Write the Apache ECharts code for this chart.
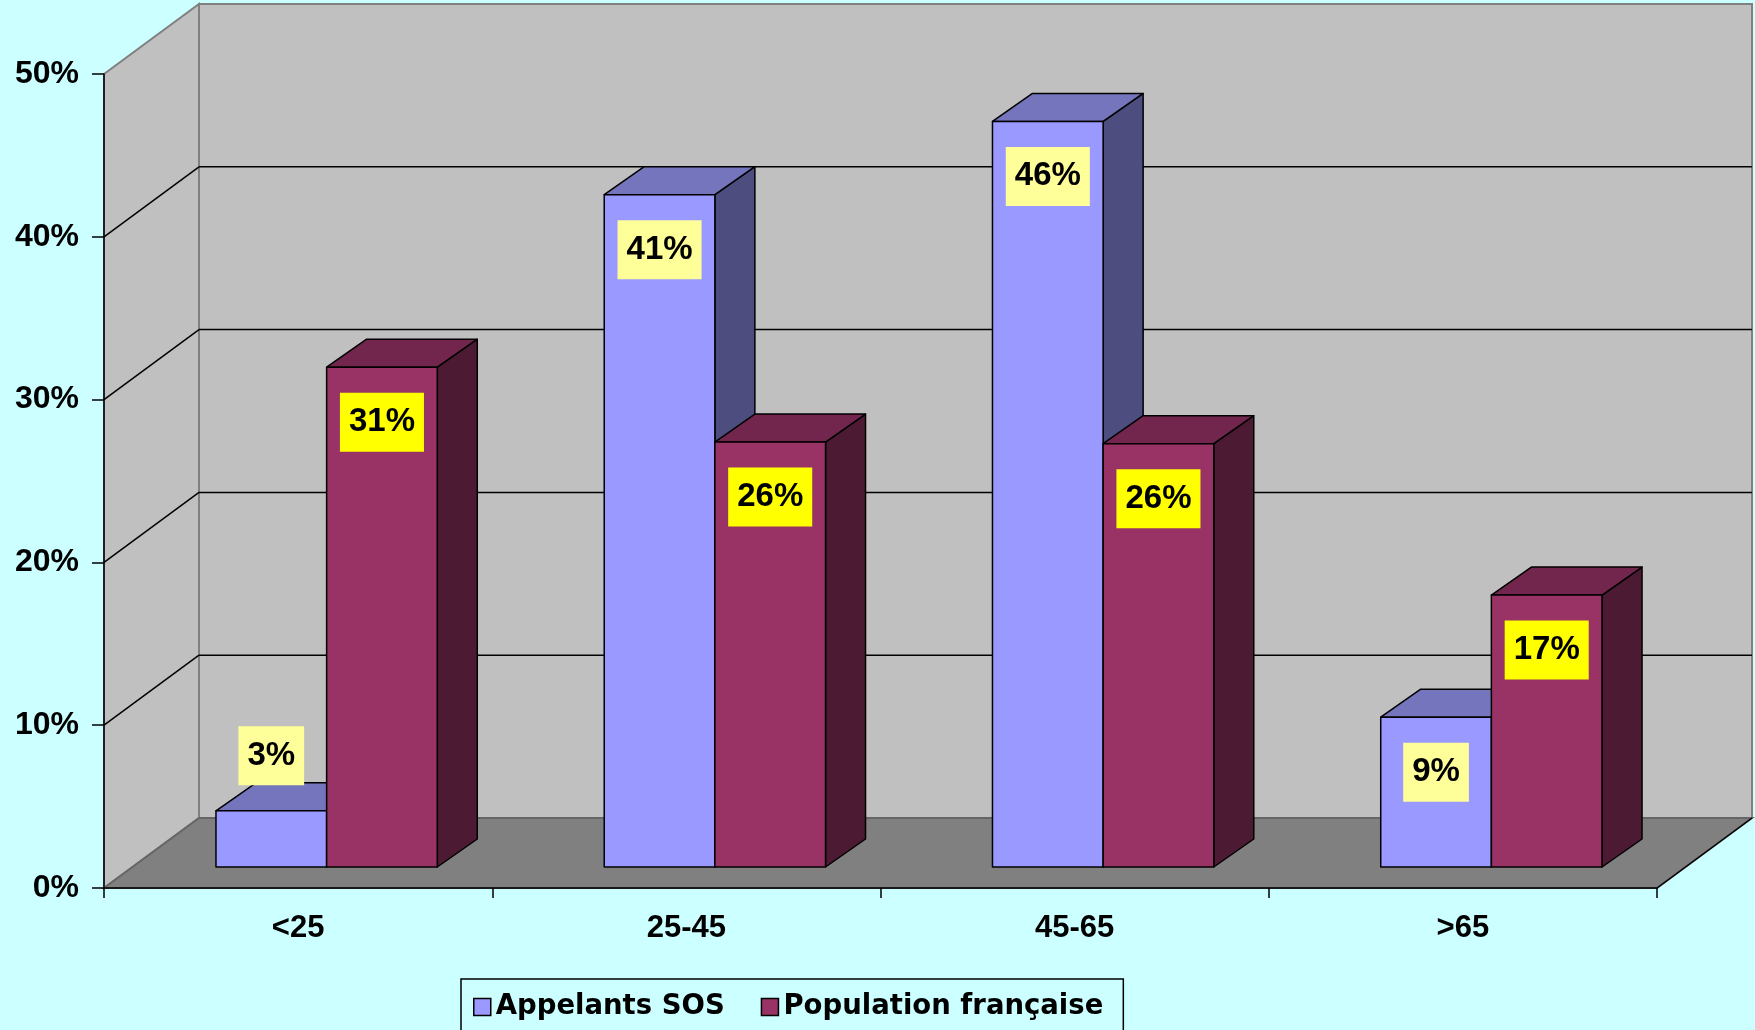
<!DOCTYPE html>
<html><head><meta charset="utf-8">
<script src="https://cdn.jsdelivr.net/npm/echarts@6/dist/echarts.min.js"></script>
<style>html,body{margin:0;padding:0;background:#CCFFFF}#c{width:1755px;height:1030px}</style>
</head><body><div id="c"></div>
<script>
// ---- data ----
const categories = ['<25', '25-45', '45-65', '>65'];
const seriesNames = ['Appelants SOS', 'Population française'];
const appelantsSOS = [3.45, 41.3, 45.8, 9.2];
const populationFrancaise = [30.7, 26.1, 26.0, 16.7];
const yTickValues = [0, 10, 20, 30, 40, 50];

// ---- style / layout constants ----
const DX = 95, DY = -70;          // depth of the floor / walls
const SHIFT_X = 28.5, SHIFT_Y = -21; // bars placed at 0.3 depth
const BDX = 40, BDY = -28;        // bar depth
const BAR_FRAC = 0.285;
const COLORS = {
  blue: { front: '#9999FF', top: '#7575BE', side: '#4D4D80', label: '#FFFF99' },
  red:  { front: '#993366', top: '#73264D', side: '#4D1A33', label: '#FFFF00' }
};

function wallRenderer(params, api) {
  const cs = params.coordSys;
  const xl = cs.x, xr = cs.x + cs.width, yT = cs.y, yB = cs.y + cs.height;
  const gray = '#808080';
  const ch = [];
  ch.push({ type: 'polygon', shape: { points: [[xl, yT], [xl + DX, yT + DY], [xl + DX, yB + DY], [xl, yB]] },
    style: { fill: '#C0C0C0', stroke: gray, lineWidth: 2 } });
  ch.push({ type: 'rect', shape: { x: xl + DX, y: yT + DY, width: xr - xl, height: yB - yT },
    style: { fill: '#C0C0C0', stroke: gray, lineWidth: 2 } });
  ch.push({ type: 'polygon', shape: { points: [[xl, yB], [xr, yB], [xr + DX, yB + DY], [xl + DX, yB + DY]] },
    style: { fill: '#808080', stroke: '#666666', lineWidth: 2 } });
  ch.push({ type: 'line', shape: { x1: xr, y1: yB, x2: xr + DX, y2: yB + DY }, style: { stroke: '#000', lineWidth: 1.5 } });
  yTickValues.forEach(v => {
    if (v === yTickValues[0] || v === yTickValues[yTickValues.length - 1]) return;
    const y = api.coord([0, v])[1];
    ch.push({ type: 'line', shape: { x1: xl, y1: y, x2: xl + DX, y2: y + DY }, style: { stroke: '#000', lineWidth: 1.5 } });
    ch.push({ type: 'line', shape: { x1: xl + DX, y1: y + DY, x2: xr + DX, y2: y + DY }, style: { stroke: '#000', lineWidth: 1.5 } });
  });
  return { type: 'group', children: ch };
}

function barRenderer(which, col) {
  return function (params, api) {
    const idx = api.value(0), val = api.value(1);
    const base = api.coord([idx, 0]);
    const topP = api.coord([idx, val]);
    const band = api.size([1, 0])[0];
    const bw = band * BAR_FRAC;
    const cx = base[0] + SHIFT_X;
    const x0 = which === 0 ? cx - bw : cx;
    const x1 = x0 + bw;
    const yb = base[1] + SHIFT_Y;
    const yt = topP[1] + SHIFT_Y;
    const ls = { stroke: '#000', lineWidth: 1.5, lineJoin: 'round' };
    const children = [
      { type: 'polygon', shape: { points: [[x1, yb], [x1 + BDX, yb + BDY], [x1 + BDX, yt + BDY], [x1, yt]] }, style: Object.assign({ fill: col.side }, ls) },
      { type: 'polygon', shape: { points: [[x0, yt], [x1, yt], [x1 + BDX, yt + BDY], [x0 + BDX, yt + BDY]] }, style: Object.assign({ fill: col.top }, ls) },
      { type: 'rect', shape: { x: x0, y: yt, width: bw, height: yb - yt }, style: Object.assign({ fill: col.front }, ls) }
    ];
    const ly = (yb - yt) < 80 ? yt - 55 : yt + 55;
    children.push({
      type: 'text', x: (x0 + x1) / 2, y: ly, z2: 10,
      style: { text: Math.round(val) + '%', font: 'bold 33px "Liberation Sans", Arial, sans-serif', fill: '#000',
        backgroundColor: col.label, padding: [13, 9, 13, 9], align: 'center', verticalAlign: 'middle' }
    });
    return { type: 'group', children: children };
  };
}

const chart = echarts.init(document.getElementById('c'), null, { renderer: 'canvas' });
chart.setOption({
  backgroundColor: '#CCFFFF',
  animation: false,
  grid: { left: 104, right: 98, top: 74, bottom: 142, containLabel: false, outerBoundsMode: 'none' },
  xAxis: {
    type: 'category', data: categories, z: 10,
    axisLine: { show: true, lineStyle: { color: '#000', width: 1.5 } },
    axisTick: { show: true, length: 10, interval: 0, lineStyle: { color: '#000', width: 1.5 } },
    axisLabel: { interval: 0, margin: 25, color: '#000', fontFamily: '"Liberation Sans", Arial', fontWeight: 'bold', fontSize: 31 },
    splitLine: { show: false }
  },
  yAxis: {
    type: 'value', min: yTickValues[0], max: yTickValues[yTickValues.length - 1], interval: 10, z: 10,
    axisLine: { show: true, lineStyle: { color: '#000', width: 1.5 } },
    axisTick: { show: true, length: 12, lineStyle: { color: '#000', width: 1.5 } },
    axisLabel: { margin: 25, color: '#000', fontFamily: '"Liberation Sans", Arial', fontWeight: 'bold', fontSize: 32, formatter: v => v + '%' },
    splitLine: { show: false }
  },
  legend: {
    left: 461, top: 979, orient: 'horizontal',
    padding: [14, 20, 14, 12], itemGap: 36, itemWidth: 17, itemHeight: 17,
    borderColor: '#000', borderWidth: 1.5, backgroundColor: 'transparent',
    textStyle: { fontFamily: '"DejaVu Sans"', fontWeight: 'bold', fontSize: 27.5, color: '#000' },
    data: [
      { name: seriesNames[0], icon: 'rect', itemStyle: { color: COLORS.blue.front, borderColor: '#000', borderWidth: 1.5 } },
      { name: seriesNames[1], icon: 'rect', itemStyle: { color: COLORS.red.front, borderColor: '#000', borderWidth: 1.5 } }
    ]
  },
  series: [
    { type: 'custom', name: 'walls', z: 1, silent: true, renderItem: wallRenderer, data: [[0, 0]] },
    { type: 'custom', name: seriesNames[0], z: 2, itemStyle: { color: COLORS.blue.front },
      renderItem: barRenderer(0, COLORS.blue), data: appelantsSOS.map((v, i) => [i, v]) },
    { type: 'custom', name: seriesNames[1], z: 2, itemStyle: { color: COLORS.red.front },
      renderItem: barRenderer(1, COLORS.red), data: populationFrancaise.map((v, i) => [i, v]) }
  ]
});
</script>
</body></html>
